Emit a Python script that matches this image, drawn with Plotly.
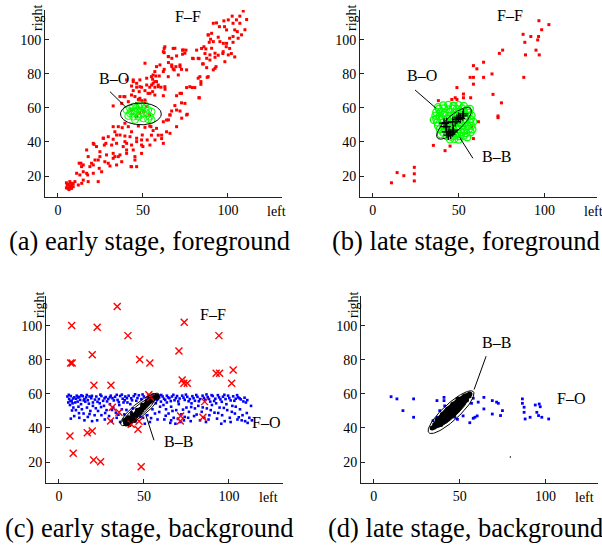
import numpy as np
import plotly.graph_objects as go

W, H = 602, 551

# ---------------- DATA ----------------
# (a) early stage, foreground : F-F pairs (red dots)
a_ff = [(5,13),(6,12.7),(7,13.7),(8,12.7),(9,13.7),(6,15),(7,16.7),(8,15.7),(5.5,14.5),(9,15.5),(10,16.7),(6.5,12),(8,14.2),(5,16),(7.5,15),
(12,14.7),(14,15.7),(14.9,17.6),(17.8,16.7),(11,21.6),(12.9,20.6),(16.9,21.6),(20.8,21.6),(23.7,16.7),(12.5,27.5),(13.9,25.5),(14.9,26.5),
(16.9,35.3),(17.8,31.4),(19.8,27.5),(21.8,29.4),(20.8,39.2),(22.7,37.3),(24.7,34.3),(24.7,31.4),(25.7,22.5),(24.3,24.5),(27.6,28.4),(28.6,32.4),
(26.7,42.2),(28.2,39.2),(29.6,43.1),(29.6,27.5),(30.6,25.9),(31.6,38.2),(32.5,41.6),(32.5,30.4),(34.5,39.2),(34.5,26.5),(35.5,31.4),(33.5,46),
(35.5,49),(36.5,44.1),(39.4,43.5),(39.4,51),(38.4,37.3),(40.4,39.2),(40.4,33.3),(43.3,38.2),(43.3,46),(43.3,25.5),(46.3,25.5),(45.3,31.4),
(49.2,33.3),(50,37.3),(46.3,40.2),(49.2,41.2),(52.5,41.2),(47.3,49.4),(51.2,48.6),(54,49.4),(56,46.7),(58,48),(55,44),(59,44),(61,42),(61,44),
(62,39.2),(63.9,46),(65.9,45.1),(69.8,49),(65,53),(65.9,55.9),(69.8,58.8),(75.7,55.9),(72.7,63),(72.7,68.6),(75.7,72),(79,72),(80.5,72),(83,66),
(83.5,78.4),(87.8,78),(85.5,85.9),(87.5,83.7),(92.4,83.3),(79.6,89),(83,89),(81.6,94),(84.5,95),(86.5,92),(89.4,88.2),(92.4,89.8),(94.3,91),
(97,92),(101,95),(102,92),(104,90),(88.4,103),(89.8,100.4),(91.4,99),(94.3,101.6),(95.3,99),(97.3,98),(99,96),(91.4,109.8),(93.3,110),(95,107.8),
(98,107.8),(102.5,114),(107,114),(109,117),(111,112),(105,111.8),(103,109.8),(107,109.8),(100.2,111.8),(97.6,111.2),(99.2,105.9),(104,105.9),
(105.5,104.9),(103,102),(103,98.6),(99.2,98),(106,101),(108,103),(110,106),(101,101),
(73.3,94),(75.3,94),(73.3,91.6),(67.8,95),(62.5,95),(62.5,92.5),(69.8,90.6),(67,89.2),(65,90.2),(67,84.3),(68.4,82.4),(69.4,84.3),(71.8,85.3),
(72.7,82.7),(65,86.7),(62.5,82.7),(60,85.3),(59.6,78.8),(57.6,78.8),(58,75.5),(55.7,76.9),(56,74.5),(54,72.2),(57,72.2),(59,72.5),(60.6,72.2),
(63,71),(53,68.6),(55.7,69.6),(51.2,70.2),(49.2,72.2),(46.3,72.2),(47.8,69.6),(44.3,70.2),(40.4,76.5),(43.3,72.9),(51.2,86.3),(45.3,66.7),
(47.3,65),(49.2,64.3),(51.2,64.7),(46.3,62.7),(38.8,66.7),(37.5,62.7),(32.5,61.2),(36.5,66.7),(43.3,67.6),(41.4,63.7),(44.3,76.5),(46.3,74.5),
(48.2,76.5),(52.2,77.5),(55,78.4),(57,81.4),(58,84.3),(62,81.4),
(43.3,58.8),(50.2,57.8),(54,55.9),(46.3,54.9),(52.2,60.8),(48,57),
(90.4,103.9),(88.4,102.9),(89,98.6),(85.9,96),(87,94.7),(90.4,95.1),(92.4,92.2),(97.2,93.1),(100.2,91.2),(98.2,87.2),(93,84.3),(91.4,82.4),
(88.4,78.4),(89.4,91.2),(87.5,89.2),(82.5,89.2),(85.1,85.9),(82.5,77.5),(84.1,75.5),(84.1,73.9),(79.2,89.2),(73.7,94.1),(74.7,92.2),(68.8,95.1),
(62.9,96),(62,93.1),(64.9,90.2),(66.9,85.3),(67.8,82.9),(71.8,84.3),(75.7,82.4),(70.8,79.4),(64.9,78.4),(56,79.4),(57,75.5),(55.1,73.5),(59,73.5),
(52.2,73.5),(48.2,72.5),(44.3,75.5),(54.1,68.6),(57,67.6),(62,67.2),(62.9,72.5),(69.8,67.2),(71.8,68.6),(77.6,72.5),(83.1,66),(74.7,62.7),
(68.8,61.4),(71.8,58.2),(76.1,56.3),(66.9,58.2),(65.9,55.9),(72.8,54),(63.9,52.9),(62,51.9),
(39.4,66.6),(48.2,65.7),(51.2,63.7),(32.5,49),(34.5,44.1),(37.8,48.4),(41.4,49),(42.4,43.1),(39.4,40.2),(46.3,42.2),(49.6,44.1),(54.7,49),
(57.1,41.2),(54.1,38.2),(49.2,38.2),(44.3,35.3),(40.4,35.3),(36.5,32.4),(32.5,33.3),(26.7,42.2),(27.3,38.2),(21.2,38.6),(23.7,29.4),(20.8,26.5),
(18.8,25.5),(13.5,27.5),(14.9,22.5),(17.5,20.6),(45.3,29.4),(37.5,28.4),(33.5,31.4),(43,25.5)]

# (a) B-O pairs (green circles)
a_bo = [(40.4,58.8),(42.4,59.8),(44.3,60.8),(47.2,61.2),(49.2,60.8),(51.2,59.8),(53.1,58.8),(55.1,57.8),(42.4,56.9),(45.3,57.8),(48.2,58.4),
(52.2,56.9),(54.1,54.9),(47.2,54.9),(44.3,54.9),(41.4,55.3),(50.2,53.9),(53.1,53.4),(55.1,53),(45.3,53),(48.2,61.8),(51.2,61.8),
(47,59),(45,58),(50,57),(43,58),(49,56),(46,60)]

# (b) late stage, foreground
b_ff = [(10.9,16),(14.2,22),(18.1,20.2),(24.2,25.1),(24.2,21.3),(24.2,17.1),(35.3,38),(38.2,64.3),(42.1,34.9),(45,37.6),(46,65),(48,66),
(49,72),(49,65),(52.8,68.2),(52.8,66),(56.7,78),(57,66),(58.6,84.9),(58.6,78),(58.6,74),(57.7,49),(58.6,42),(61.5,51.9),(60.6,83),
(64.5,86.9),(64.5,78),(69.4,80),(70,68),(72.9,55.3),(72.9,54.3),(73.7,92.1),(74.9,63),(75.6,94),(87.5,103.3),(88.5,98.6),(88.9,91.2),
(87.9,78),(92,102),(95,94),(96,100),(96.5,102),(96.7,111.3),(96.9,91.2),(98.3,106),(102.5,109)]
b_bo = [(41,61.5),(44,61.8),(47,61.3),(50,61.7),(53,61.2),
(38.5,59.5),(41.5,59.8),(44,59.2),(46.5,59.6),(49,59.3),(52,59.7),(55,59.1),
(37,57.5),(39.5,57.8),(42,57.2),(45,57.6),(48,57.3),(50.5,57.7),(53,57.4),(56,57.2),
(36.5,55.5),(39,55.2),(41.5,55.8),(44.5,55.4),(47,55.6),(49.5,55.2),(52,55.7),(55,55.3),(57.5,55.6),
(37,53.5),(40,53.2),(43,53.7),(46,53.4),(48.5,53.6),(51,53.1),(54,53.5),(57,53.3),
(37.5,51.5),(40.5,51.2),(43.5,51.7),(45.5,51.3),(48,51.6),(50.5,51.2),(53.5,51.5),(56.5,51.7),
(38,49.5),(41,49.8),(44,49.3),(46.5,49.6),(49,49.2),(52,49.7),(55,49.4),(57.5,49.6),
(39,47.5),(42,47.3),(44.5,47.8),(47,47.4),(50,47.6),(53,47.2),(56,47.7),
(41,45.5),(43.5,45.3),(46,45.7),(49,45.4),(51.5,45.6),(54.5,45.2),(57,45.7),
(43,43.5),(45.5,43.2),(48,43.7),(50.5,43.4),(53,43.6),
(45,41.5),(47.5,41.8),(50,41.4),
(38,60.5),(56.5,59.5),(35.5,53),(58.5,52),(39.5,44.5),(55,42.8),(58,47.5)]
b_bb = [(41.5,51),(43.1,51.4),(42.5,49),(44.4,46),(45.4,44.7),(46.6,46),(47,47),(46.6,52),(48,52),(49,53.3),(49.9,54.5),(50.9,53.9),
(52.8,56.5),(52.4,55.3),(43.1,46),(44,44)]

# (c) early stage, background
c_ff = [(34.3,111.4),(7.5,100.2),(22.5,99.2),(73.7,102.2),(94.1,94.3),(40.6,94.3),(70.6,85.3),(19.6,83.1),(47.5,80.2),(53.5,78.2),(6.9,78.2),
(7.8,78.2),(92.5,72.2),(94.5,72.2),(102.5,74.1),(72.5,68.2),(73.5,66.3),(75.5,66.3),(101.6,66.3),(20.6,65.1),(30.6,65.1),(31.4,52.2),
(35.3,49.2),(30.4,44.1),(47.1,43.9),(46.5,39.2),(42.5,42.2),(16.7,37.2),(19.6,38.2),(6.5,35.3),(8.4,25.1),(20.4,21.2),(24.5,20.2),(48.4,17.2),
(71.4,44.1),(71.6,47.1),(84.7,46.3),(85.7,55.5),(53.9,58.1),(52.9,59.5)]
c_fo = [(5,58.5),(6,57),(7,58.8),(7.5,56),(8,54.5),(9,58),(10,57.2),(10.5,59),(11,55.5),(12,58.3),(12.5,56.5),(13,54),(14,58.7),(15,57),
(15.5,55.5),(16,58),(17,56.3),(18,58.5),(19,57.5),(20,55),(5.5,55),(6.5,53.5),(8.5,52),(10,50.5),(11.5,52.5),(13.5,51),(14.5,48.5),
(16.5,52),(18.5,50),(20,53),(9,47),(12,46),(17,46.5),(19.5,44),(7,45.5),(15,44.5),(21,47.5),
(22,58.5),(23.5,57),(25,58.8),(26,56),(27.5,58.2),(29,57),(30.5,59),(31.5,57.5),(33,58.3),(34.5,56.5),(36,58.8),(37.5,57.2),(39,58.5),
(24,54.5),(26.5,53),(28,50.5),(30,54),(32,52),(33.5,49),(35.5,53.5),(37,51),(38.5,48),(23,50),(25,47.5),(27,45),(29.5,47),(31,44),(34,46),
(36,43.5),(22.5,44.5),(38,55),(40,57.5),
(41,59),(42.5,57.5),(44,58.7),(45.5,56),(47,59.2),(48.5,57),(50,58.5),(51.5,56.5),(53,59),(54.5,57.3),(56,58.8),(57.5,56.5),(59,58),
(42,54),(43.5,51.5),(47,49),(49.5,46),(52,47.5),(55,51),(56.5,48.5),(58,45),(53.5,43.5),(45,44),(41,46.5),(59.5,52.5),(57,54.5),(50.5,42.5),
(44,48),(60,55.5),
(61,58.5),(62.5,56.5),(63.5,59),(65,57.5),(66.5,58.5),(68,56.3),(69.5,58.8),(71,57.3),(72.5,59),(74,56.5),(75.5,58.3),(77,57),(78.5,58.7),
(80,56),(61.5,53.5),(63,51),(64.5,48.5),(66,52.5),(67.5,46),(69,50.5),(70.5,54),(72,48),(73.5,44.5),(75,52),(76.5,49.5),(78,54.5),(79.5,47),
(62,45),(65.5,43),(68.5,42.5),(71.5,43.5),(74,46.5),(77.5,44),(80,51.5),(63.5,55),
(81.5,58.3),(83,57),(84.5,59),(86,56.5),(87.5,58.2),(89,55.5),(90.5,58.8),(92,57.2),(93.5,59.3),(95,56.8),(96.5,58.4),(98,57),(99.5,59),
(101,56.2),(102.5,58.6),(104,57.2),(105.5,58),(107,56.8),(108.5,55.6),(110,55),(82,53),(84,49.5),(85.5,46),(87,51.5),(88.5,47.5),(90,53.5),
(91.5,49),(93,45.5),(94.5,52),(96,47.5),(97.5,44),(99,50.5),(100.5,46),(102,53),(103.5,48.5),(105,45),(106.5,51),(108,47.5),(109.5,44),
(111,43),(112,46),(104,52.5),(98.5,54),(92.5,54.5),(86.5,43.5),(95.5,42.5),(101,43.5),(107.5,44.5),(83,44.5),(113,53),
(5.8,59.5),(6.8,55.8),(8.3,57.3),(9.6,55),(11.3,57.9),(13.2,59.2),(14.6,56.2),(16.4,59.4),(17.6,54.3),(19.4,58.9),(21.2,56.7),(22.7,55.4),
(24.4,59.6),(26.8,57.4),(28.3,55.6),(30,58.1),(32.3,56.2),(34,59.5),(35.2,55.2),(37,59.6),(38.7,56.3),(40.3,55),(43,56.3),(44.8,59.8),
(46.2,57.6),(49.2,59.7),(52.3,57.9),(55.2,59.6),(58.3,57),(60.2,59.4),(61.8,57.2),(64.2,58),(65.8,55.8),(67.3,59.5),(68.8,57.6),(70.2,55.6),
(73.3,57.8),(74.7,59.6),(76.3,55.7),(79.2,57.5),(80.8,59.4),(82.3,55.7),(85.3,57.7),(86.8,59.7),(88.3,57),(89.8,59.3),(91.3,55.9),(94.2,58),
(95.8,55.4),(97.3,59.5),(100.2,57.6),(103.2,56),(104.8,59.3),(106.3,57.4),(109.2,57.8),(110.8,56.4),
(7.7,50.3),(11.8,48.7),(18,48.2),(21.7,51.6),(24.8,52.3),(27.2,48.8),(31.2,50.6),(35,47.8),(39.7,50.6),(42.7,49.3),(47.8,46.7),(54.2,45.8),
(59,49.4),(62.8,47.2),(66.8,50),(70,45.3),(73,50.8),(77.8,52.3),(81,47.9),(84.6,52.1),(89.3,50.5),(93.7,48.8),(97,51.8),(101.7,49.5),
(105.8,46.3),(110.5,48.8),(113.5,44.5),(88,45),(76,46),(66,44.5)]
c_bb = [(39,43),(39.5,42.2),(40,44),(40.5,43),(41,44.5),(41,42.5),(41.5,45.5),(42,44),(42.5,46),(42,43),(43,45),(43.5,46.8),(44,45.5),(44,47.5),
(44.5,46.5),(45,48),(45.5,47),(45.5,49),(46,48.2),(46.5,49.5),(47,48.5),(47,50.5),(47.5,50),(48,51.2),(48,49.3),(48.5,51),(49,52),(49,50.5),
(49.5,52.8),(50,51.8),(50,53.5),(50.5,52.5),(51,54),(51,52.8),(51.5,54.8),(52,53.8),(52,55.5),(52.5,54.5),(53,56),(53,55),(53.5,56.5),
(54,55.5),(54,57.3),(54.5,56.5),(55,57.8),(55,56.5),(55.5,58),(56,57.5),(56.5,58.5),(57,57.8),(57.5,59),(58,58.5),(40,45.5),(43,48),(46,50.5),
(49,53.5),(38.5,44.5),(41.5,41.8),(44.5,44.2),(40.8,46.2)]

# (d) late stage, background
d_fo = [(10.1,58.4),(13.5,57.1),(23.2,57.1),(17,50.2),(23.2,46.3),(36.8,56.1),(40.9,58),(40.9,56.1),(41.3,53),(38.4,50.2),(34.5,44.3),
(37,46.3),(47.2,46.3),(48.7,45.1),(52,47.1),(56.9,54.5),(57.9,45.7),(58.9,46.3),(55.9,43.1),(57.9,57.5),(60.8,55.2),(64.1,58),(64.1,51.2),
(69,56.1),(71.5,55.2),(72.5,54.5),(69,48.2),(74.9,50.2),(73.8,47.3),(86.5,57.1),(86.5,54.5),(87.5,52.2),(87.5,49.2),(88.1,45.3),(91,46.3),
(94,53.5),(96.3,54.1),(94.9,49.2),(95.9,47.3),(97.8,46.3),(101.8,45.3),(96.9,52.5),(46.2,50.2),(60.2,47.1)]
d_bb = [(34,40),(35,40.5),(35.5,42),(36,41.2),(36.5,43),(37,42.2),(37.5,44),(38,43),(38.5,45),(39,44),(39.5,46),(40,45),(40.5,47),(41,46),
(41.5,48),(42,47),(42.5,49),(43,48),(43.5,50),(44,49),(44.5,51),(45,50),(45.5,52),(46,51),(46.5,53),(47,52),(47.5,54),(48,53),(48.5,55),
(49,54),(49.5,56),(50,55),(50.5,57),(51,56),(51.5,57.5),(52,57),(52.5,58.5),(53,57.8),(53.5,59),(54,58.5),(55,59.5),(55.5,58.8),(56,60),
(37,45),(40,48),(43,51),(46,54),(49,57),(39,42),(42,45),(45,48),(48,51),(51,54),(54,56.5)]
d_stray = [(79.5,23)]

# ellipses: (cx, cy, semi-major, semi-minor, angle deg)
a_ell = [(48.8, 56.5, 12.0, 6.4, 0)]
b_ell = [(47.3, 51.0, 13.0, 4.6, 42)]
c_ell = [(47.7, 50.9, 14.4, 3.9, 39), (47.3, 50.5, 12.0, 2.9, 39)]
d_ell = [(45.0, 49.3, 17.7, 4.8, 43)]
d_core = (45.0, 49.6, 13.5, 3.5, 43)

x_ticks = [0, 50, 100]
y_ticks = [20, 40, 60, 80, 100]
captions = ["(a) early stage, foreground", "(b) late stage, foreground",
            "(c) early stage, background", "(d) late stage, background"]

# ---------------- FIGURE ----------------
FONT = "Liberation Serif, Times New Roman, Times, serif"
RED, GREEN, BLUE = "#ff0000", "#00ff00", "#0000ff"

def xs(p): return [q[0] for q in p]
def ys(p): return [q[1] for q in p]

def ellipse(cx, cy, a, b, ang, n=120):
    t = np.linspace(0, 2*np.pi, n)
    th = np.deg2rad(ang)
    x = cx + a*np.cos(t)*np.cos(th) - b*np.sin(t)*np.sin(th)
    y = cy + a*np.cos(t)*np.sin(th) + b*np.sin(t)*np.cos(th)
    return x, y

fig = go.Figure()

def axn(ax):
    return ("x", "y") if ax == 1 else (f"x{ax}", f"y{ax}")

def pts(p, ax, sym, size, color, lw=1):
    xa, ya = axn(ax)
    mk = dict(symbol=sym, size=size, color=color)
    mk["line"] = dict(color=color, width=lw) if "open" in sym else dict(width=0)
    fig.add_trace(go.Scatter(x=xs(p), y=ys(p), mode="markers", marker=mk,
                             xaxis=xa, yaxis=ya, showlegend=False, hoverinfo="skip"))

def ell(spec, ax, fill=False):
    xa, ya = axn(ax)
    ex, ey = ellipse(*spec)
    kw = dict(fill="toself", fillcolor="black") if fill else {}
    fig.add_trace(go.Scatter(x=ex, y=ey, mode="lines", line=dict(color="black", width=1),
                             xaxis=xa, yaxis=ya, showlegend=False, hoverinfo="skip", **kw))

# (a)
pts(a_ff, 1, "square", 3, RED)
pts(a_bo, 1, "circle-open", 7, GREEN, 1)
for e in a_ell: ell(e, 1)
# (b)
pts(b_ff, 2, "square", 3, RED)
pts(b_bo, 2, "circle-open", 7, GREEN, 1.3)
pts(b_bb, 2, "cross-thin-open", 7, "black", 1.3)
for e in b_ell: ell(e, 2)
# (c)
pts(c_fo, 3, "square", 2.6, BLUE)
pts(c_bb, 3, "circle", 4.5, "black")
pts(c_ff, 3, "x-thin-open", 7, RED, 1.4)
for e in c_ell: ell(e, 3)
# (d)
pts(d_fo, 4, "square", 2.8, BLUE)
ell(d_core, 4, fill=True)
pts(d_bb, 4, "circle", 5, "black")
pts(d_stray, 4, "circle", 1.5, "black")
for e in d_ell: ell(e, 4)

def px2p(x, y):
    return x / W, 1 - y / H

axis_common = dict(showline=True, linecolor="#222", linewidth=1, ticks="inside", ticklen=4,
                   tickcolor="#222", showgrid=False, zeroline=False, mirror=False,
                   tickfont=dict(family=FONT, size=14, color="black"))

panels = {
    1: dict(xd=(45, 282), yd=(10, 197), xr=(-7.6, 131.8)),
    2: dict(xd=(360, 597), yd=(10, 197), xr=(-7.4, 130.5)),
    3: dict(xd=(46, 283), yd=(296, 483), xr=(-7.6, 131.8)),
    4: dict(xd=(361, 598), yd=(296, 483), xr=(-7.4, 130.5)),
}
yr = (7.65, 117.6)
lay = {}
for k, p in panels.items():
    sx = "" if k == 1 else str(k)
    lay[f"xaxis{sx}"] = dict(axis_common, domain=[p["xd"][0]/W, p["xd"][1]/W], range=list(p["xr"]),
                             tickvals=x_ticks, anchor=f"y{sx}")
    lay[f"yaxis{sx}"] = dict(axis_common, domain=[1-p["yd"][1]/H, 1-p["yd"][0]/H], range=list(yr),
                             tickvals=y_ticks, anchor=f"x{sx}")
fig.update_layout(**lay)

ann = []
def txt(x, y, s, size, xr="paper", yrf="paper", angle=0):
    ann.append(dict(x=x, y=y, text=s, showarrow=False, xref=xr, yref=yrf, textangle=angle,
                    font=dict(family=FONT, size=size, color="black"), xanchor="center", yanchor="middle"))

for s, (cx, cy) in zip(captions, [(149, 241), (466, 241), (149, 528), (465, 528)]):
    x, y = px2p(cx, cy); txt(x, y, s, 26.5)
for cx, cy in [(276, 211), (593, 211), (268, 497), (584, 497)]:
    x, y = px2p(cx, cy); txt(x, y, "left", 14)
for cx, cy in [(38, 18), (352, 18), (39, 305), (353, 305)]:
    x, y = px2p(cx, cy); txt(x, y, "right", 14, angle=-90)

labels = [(1, 76.6, 113.7, "F–F"), (1, 32.9, 77.1, "B–O"),
          (2, 80.0, 114.1, "F–F"), (2, 28.6, 78.8, "B–O"), (2, 72.3, 31.4, "B–B"),
          (3, 90.8, 106.8, "F–F"), (3, 121.8, 43.1, "F–O"), (3, 70.2, 32.2, "B–B"),
          (4, 71.7, 90.1, "B–B"), (4, 114.8, 57.4, "F–O")]
for k, x, y, s in labels:
    xa, ya = axn(k)
    txt(x, y, s, 16, xr=xa, yrf=ya)

pointers = [(1, 30.6, 69.6, 40.0, 60.4),
            (2, 24.6, 70.6, 36.9, 59.8), (2, 58.3, 30.4, 50.5, 42.8),
            (3, 55.9, 32.8, 51.0, 47.9),
            (4, 65.4, 82.2, 58.4, 62.6)]
shapes = []
for k, x0, y0, x1, y1 in pointers:
    xa, ya = axn(k)
    shapes.append(dict(type="line", xref=xa, yref=ya, x0=x0, y0=y0, x1=x1, y1=y1,
                       line=dict(color="black", width=1)))

fig.update_layout(width=W, height=H, margin=dict(l=0, r=0, t=0, b=0),
                  paper_bgcolor="white", plot_bgcolor="white",
                  annotations=ann, shapes=shapes, showlegend=False)
fig.write_html("out.html")
